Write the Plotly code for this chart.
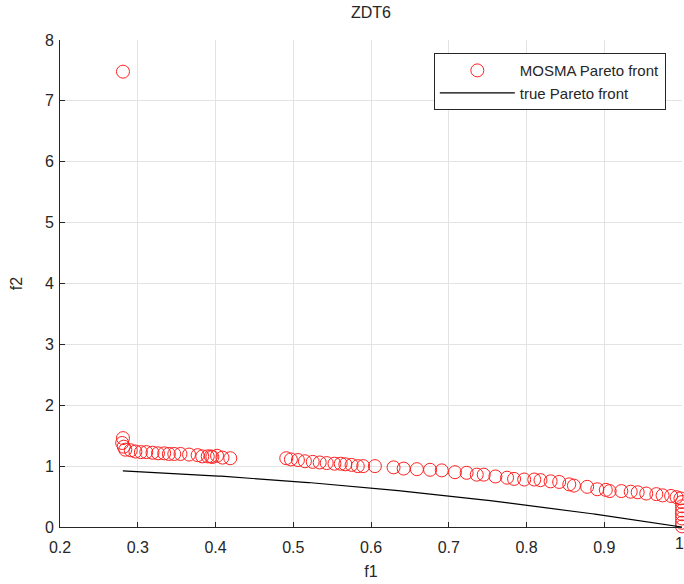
import plotly.graph_objects as go
import numpy as np

# MOSMA Pareto front
mosma_f1 = [0.281, 0.281, 0.280, 0.282,
            0.284, 0.291, 0.297, 0.304, 0.311, 0.319, 0.326, 0.334, 0.340, 0.347,
            0.355, 0.366, 0.377, 0.383, 0.390, 0.394, 0.396, 0.402, 0.409, 0.419,
            0.491, 0.497, 0.506, 0.515, 0.525, 0.534, 0.543, 0.553, 0.561, 0.567,
            0.575, 0.583, 0.590, 0.605, 0.629, 0.642, 0.659, 0.676, 0.691, 0.708,
            0.723, 0.736, 0.745, 0.760, 0.775, 0.784, 0.797, 0.810, 0.818, 0.831,
            0.842, 0.855, 0.861, 0.878, 0.891, 0.902, 0.907, 0.922, 0.934, 0.943,
            0.954, 0.967, 0.975, 0.986, 0.993, 0.998,
            1.000, 1.000, 1.000, 1.000, 1.000, 1.000, 1.000]
mosma_f2 = [7.48, 1.46, 1.38, 1.32,
            1.27, 1.26, 1.24, 1.23, 1.23, 1.22, 1.21, 1.21, 1.20, 1.20,
            1.20, 1.19, 1.18, 1.16, 1.16, 1.16, 1.15, 1.17, 1.14, 1.13,
            1.13, 1.11, 1.10, 1.08, 1.07, 1.06, 1.05, 1.04, 1.04, 1.03,
            1.02, 1.00, 1.00, 1.00, 0.98, 0.96, 0.95, 0.94, 0.93, 0.90,
            0.89, 0.86, 0.86, 0.83, 0.81, 0.79, 0.78, 0.78, 0.77, 0.75,
            0.74, 0.70, 0.68, 0.66, 0.62, 0.61, 0.59, 0.59, 0.58, 0.57,
            0.55, 0.54, 0.52, 0.51, 0.49, 0.47,
            0.41, 0.34, 0.27, 0.21, 0.14, 0.07, 0.01]

# true Pareto front of ZDT6: f2 = 1 - f1^2
true_f1 = np.linspace(0.2808, 1.0, 200)
true_f2 = 1 - true_f1 ** 2

x_ticks = [0.2, 0.3, 0.4, 0.5, 0.6, 0.7, 0.8, 0.9, 1]
y_ticks = [0, 1, 2, 3, 4, 5, 6, 7, 8]

FONT = "Liberation Sans, Arial"
TXT = "#262626"

fig = go.Figure()
fig.add_trace(go.Scatter(
    x=mosma_f1, y=mosma_f2, mode="markers", name="MOSMA Pareto front",
    marker=dict(symbol="circle-open", size=13, color="#ff2020", line=dict(width=1)),
    cliponaxis=False,
))
fig.add_trace(go.Scatter(
    x=true_f1, y=true_f2, mode="lines", name="true Pareto front",
    line=dict(color="black", width=1.2),
))

axis_common = dict(
    showgrid=True, gridcolor="#e3e3e3", gridwidth=1,
    showline=True, linecolor=TXT, linewidth=1,
    ticks="inside", ticklen=5, tickcolor=TXT,
    zeroline=False, mirror=False,
    tickfont=dict(family=FONT, size=16, color=TXT),
)

fig.update_layout(
    width=684, height=584,
    margin=dict(l=60, r=2, t=40, b=57),
    paper_bgcolor="white", plot_bgcolor="white",
    title=dict(text="ZDT6", x=(60 + 311) / 684, xanchor="center", y=0.978, yanchor="middle",
               font=dict(family=FONT, size=16, color=TXT)),
    xaxis=dict(range=[0.2, 1.0], tickvals=x_ticks[:-1], ticktext=[str(v) for v in x_ticks[:-1]],
               ticklabelstandoff=6,
               title=dict(text="f1", font=dict(family=FONT, size=16, color=TXT), standoff=10),
               **axis_common),
    yaxis=dict(range=[0, 8], tickvals=y_ticks, ticklabelstandoff=2,
               title=dict(text="f2", font=dict(family=FONT, size=16, color=TXT), standoff=18),
               **axis_common),
    legend=dict(x=0.974, y=0.973, xanchor="right", yanchor="top",
                bgcolor="white", bordercolor=TXT, borderwidth=1,
                font=dict(family=FONT, size=15, color=TXT),
                tracegroupgap=0, itemwidth=75),
    showlegend=True,
)

# last x tick label (at the figure edge, as in the reference)
fig.add_annotation(x=x_ticks[-1], y=0, xref="x", yref="y", text=str(x_ticks[-1]),
                   showarrow=False, xanchor="right", yanchor="top", yshift=-6, xshift=4,
                   font=dict(family=FONT, size=16, color=TXT))

fig.write_html("out.html")
